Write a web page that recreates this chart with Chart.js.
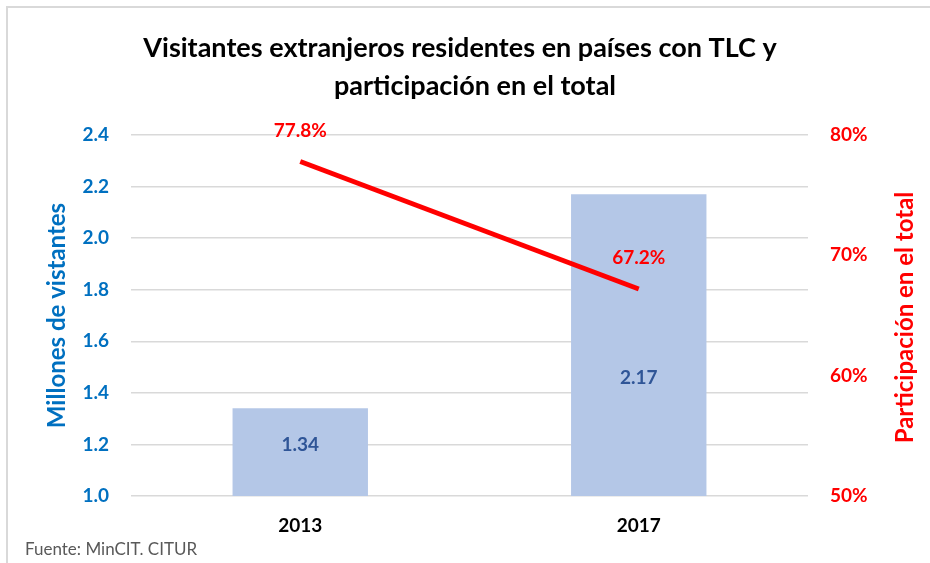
<!DOCTYPE html>
<html>
<head>
<meta charset="utf-8">
<script src="https://cdn.jsdelivr.net/npm/chart.js@4.4.1/dist/chart.umd.min.js"></script>
<style>
  html, body { margin: 0; padding: 0; background: #fff; }
  #wrap { width: 930px; height: 563px; }
</style>
</head>
<body>
<div id="wrap"><canvas id="chart" width="930" height="563"></canvas></div>
<script>
// data
const years = ['2013', '2017'];
const visitors = [1.34, 2.17];        // millones de visitantes
const share = [77.8, 67.2];           // % del total
const leftTicks = [1.0, 1.2, 1.4, 1.6, 1.8, 2.0, 2.2, 2.4];
const rightTicks = [50, 60, 70, 80];

const FONT = 'Lato, "Open Sans", sans-serif';
const BLUE = '#0070c0';
const RED = '#ff0000';

// title, footer, frame, right axis title and value labels
const decor = {
    id: 'decor',
    beforeDraw(chart) {
        const ctx = chart.ctx;
        ctx.save();
        ctx.strokeStyle = '#d9d9d9';
        ctx.lineWidth = 2;
        ctx.strokeRect(7, 7, 940, 580);
        ctx.restore();
    },
    afterDraw(chart) {
        const ctx = chart.ctx;
        const area = chart.chartArea;
        ctx.save();
        ctx.textAlign = 'center';
        ctx.textBaseline = 'middle';
        ctx.fillStyle = '#000';
        ctx.font = 'bold 27px ' + FONT;
        ctx.fillText('Visitantes extranjeros residentes en países con TLC y', 460, 48);
        ctx.fillText('participación en el total', 475, 86);

        ctx.textAlign = 'left';
        ctx.fillStyle = '#595959';
        ctx.font = '17px ' + FONT;
        ctx.fillText('Fuente: MinCIT. CITUR', 25, 550);

        // right axis title, bottom to top
        ctx.save();
        ctx.translate(905, (area.top + area.bottom) / 2 + 2);
        ctx.rotate(-Math.PI / 2);
        ctx.textAlign = 'center';
        ctx.fillStyle = RED;
        ctx.font = 'bold 24px ' + FONT;
        ctx.fillText('Participación en el total', 0, 0);
        ctx.restore();

        // bar labels
        const barMeta = chart.getDatasetMeta(0);
        const fr = [0.58, 0.39];
        ctx.textAlign = 'center';
        ctx.font = 'bold 19px ' + FONT;
        ctx.fillStyle = '#2f5597';
        barMeta.data.forEach((bar, i) => {
            const y = area.bottom - (area.bottom - bar.y) * fr[i];
            ctx.fillText(visitors[i].toFixed(2), bar.x, y);
        });

        // line labels
        const lineMeta = chart.getDatasetMeta(1);
        ctx.fillStyle = RED;
        lineMeta.data.forEach((pt, i) => {
            ctx.fillText(share[i].toFixed(1) + '%', pt.x, pt.y - 31);
        });
        ctx.restore();
    }
};

new Chart(document.getElementById('chart'), {
    data: {
        labels: years,
        datasets: [{
            type: 'bar',
            label: 'Visitantes',
            data: visitors,
            backgroundColor: '#b4c7e7',
            barPercentage: 0.4,
            categoryPercentage: 1,
            yAxisID: 'y',
            order: 2
        }, {
            type: 'line',
            label: 'Participación',
            data: share,
            borderColor: RED,
            borderWidth: 5,
            pointRadius: 0,
            yAxisID: 'y1',
            order: 1
        }]
    },
    options: {
        responsive: false,
        animation: false,
        layout: { padding: { top: 135, left: 0, right: 0, bottom: 0 } },
        plugins: {
            legend: { display: false },
            tooltip: { enabled: false }
        },
        scales: {
            x: {
                grid: { display: false },
                border: { display: false },
                ticks: {
                    color: '#000',
                    padding: 10,
                    font: { family: FONT, size: 19, weight: 'bold' }
                },
                afterFit(s) { s.height = 67; }
            },
            y: {
                position: 'left',
                min: 1.0,
                max: 2.4,
                afterBuildTicks(s) { s.ticks = leftTicks.map(v => ({ value: v })); },
                grid: { color: '#d9d9d9', lineWidth: 1.5, drawTicks: false },
                border: { display: false },
                ticks: {
                    color: BLUE,
                    padding: 22,
                    font: { family: FONT, size: 19, weight: 'bold' },
                    callback: v => v.toFixed(1)
                },
                title: {
                    display: true,
                    text: 'Millones de vistantes',
                    color: BLUE,
                    padding: { top: 43, bottom: 0 },
                    font: { family: FONT, size: 24, weight: 'bold' }
                },
                afterFit(s) { s.width = 131; }
            },
            y1: {
                position: 'right',
                min: 50,
                max: 80,
                afterBuildTicks(s) { s.ticks = rightTicks.map(v => ({ value: v })); },
                grid: { drawOnChartArea: false, drawTicks: false },
                border: { display: false },
                ticks: {
                    color: RED,
                    padding: 22,
                    font: { family: FONT, size: 19, weight: 'bold' },
                    callback: v => v + '%'
                },
                afterFit(s) { s.width = 122; }
            }
        }
    },
    plugins: [decor]
});
</script>
</body>
</html>
